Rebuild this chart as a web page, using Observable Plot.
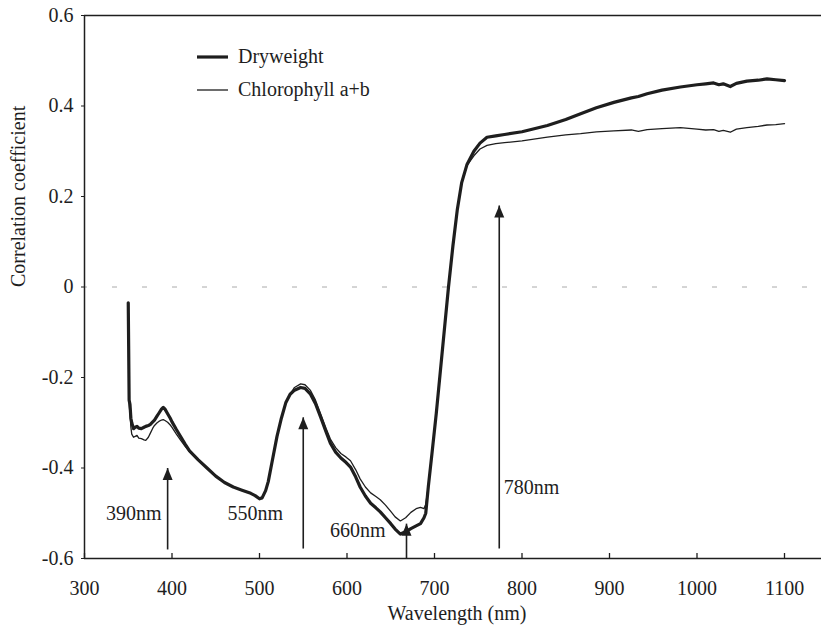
<!DOCTYPE html>
<html><head><meta charset="utf-8">
<script src="https://cdn.jsdelivr.net/npm/d3@7"></script>
<script src="https://cdn.jsdelivr.net/npm/@observablehq/plot@0.6"></script>
<style>body{margin:0;background:#fff} svg{display:block}</style>
</head><body><div id="chart"></div>
<script>
// ---- data ----
const wavelengths = [350, 350.5, 351, 352, 353, 354, 356, 358, 360, 362, 365, 368, 370, 373, 375, 378, 380, 383, 385, 388, 390, 392, 395, 398, 400, 405, 410, 415, 420, 430, 440, 450, 460, 470, 480, 490, 495, 500, 503, 507, 510, 515, 520, 525, 530, 535, 540, 547, 552, 558, 564, 570, 576, 581, 587, 593, 599, 604, 610, 615, 621, 627, 633, 638, 644, 650, 655, 661, 667, 673, 679, 684, 688, 690, 693, 697, 702, 707, 712, 716, 721, 726, 731, 737, 745, 752, 760, 770, 780, 800, 829, 850, 867, 885, 905, 925, 933, 943, 960, 981, 1000, 1010, 1019, 1025, 1030, 1038, 1045, 1057, 1070, 1080, 1090, 1100];
const dryweight = [-0.035, -0.14, -0.25, -0.26, -0.29, -0.30, -0.313, -0.31, -0.308, -0.312, -0.313, -0.31, -0.308, -0.306, -0.304, -0.298, -0.294, -0.285, -0.279, -0.27, -0.266, -0.27, -0.28, -0.29, -0.298, -0.315, -0.331, -0.347, -0.362, -0.382, -0.40, -0.418, -0.432, -0.442, -0.449, -0.456, -0.461, -0.468, -0.466, -0.45, -0.43, -0.38, -0.33, -0.29, -0.256, -0.237, -0.228, -0.222, -0.224, -0.236, -0.258, -0.288, -0.32, -0.345, -0.365, -0.378, -0.388, -0.398, -0.42, -0.442, -0.462, -0.478, -0.488, -0.497, -0.51, -0.523, -0.535, -0.546, -0.541, -0.534, -0.528, -0.523, -0.51, -0.50, -0.44, -0.37, -0.28, -0.18, -0.08, 0.0, 0.09, 0.17, 0.23, 0.27, 0.30, 0.318, 0.331, 0.334, 0.337, 0.343, 0.357, 0.37, 0.383, 0.396, 0.408, 0.418, 0.421, 0.427, 0.435, 0.442, 0.447, 0.449, 0.451, 0.447, 0.449, 0.443, 0.450, 0.455, 0.457, 0.460, 0.458, 0.456];
const chlorophyll = [-0.035, -0.15, -0.26, -0.28, -0.31, -0.325, -0.332, -0.33, -0.328, -0.334, -0.335, -0.338, -0.339, -0.332, -0.324, -0.312, -0.306, -0.300, -0.297, -0.294, -0.293, -0.295, -0.299, -0.305, -0.31, -0.325, -0.339, -0.352, -0.364, -0.382, -0.40, -0.418, -0.432, -0.442, -0.449, -0.456, -0.461, -0.468, -0.466, -0.45, -0.43, -0.38, -0.33, -0.29, -0.256, -0.237, -0.222, -0.214, -0.216, -0.228, -0.25, -0.281, -0.312, -0.336, -0.355, -0.368, -0.376, -0.384, -0.404, -0.424, -0.442, -0.455, -0.463, -0.47, -0.482, -0.496, -0.508, -0.517, -0.51, -0.498, -0.49, -0.487, -0.49, -0.48, -0.44, -0.37, -0.28, -0.18, -0.08, 0.0, 0.09, 0.17, 0.23, 0.268, 0.29, 0.305, 0.313, 0.317, 0.319, 0.323, 0.331, 0.336, 0.339, 0.343, 0.345, 0.347, 0.344, 0.348, 0.35, 0.352, 0.349, 0.347, 0.348, 0.344, 0.346, 0.342, 0.349, 0.352, 0.355, 0.358, 0.359, 0.361];
const seriesNames = ["Dryweight", "Chlorophyll a+b"];
const xTicks = [300, 400, 500, 600, 700, 800, 900, 1000, 1100];
const yTicks = [-0.6, -0.4, -0.2, 0, 0.2, 0.4, 0.6];
const yTickLabels = ["-0.6", "-0.4", "-0.2", "0", "0.2", "0.4", "0.6"];
const arrowWl = [395, 550, 668, 774];
const arrowFrom = [-0.58, -0.578, -0.6, -0.578];
const arrowTo = [-0.40, -0.288, -0.523, 0.18];
const arrowLabels = ["390nm", "550nm", "660nm", "780nm"];
const labelWl = [388, 527, 644, 779];
const labelR = [-0.5, -0.5, -0.538, -0.443];
const labelSide = ["end", "end", "end", "start"];

// ---- pick an installed serif font (Times-like) ----
function hasFont(name) {
  const c = document.createElement("canvas").getContext("2d");
  const s = "Wavelength 0123456789 Correlation";
  return ["monospace", "sans-serif"].some(base => {
    c.font = `20px ${base}`; const w0 = c.measureText(s).width;
    c.font = `20px "${name}", ${base}`; const w1 = c.measureText(s).width;
    return Math.abs(w1 - w0) > 0.5;
  });
}
const serifCandidates = ["Liberation Serif", "Times New Roman", "Tinos", "Times", "Nimbus Roman", "DejaVu Serif", "Noto Serif"];
const chosen = serifCandidates.find(hasFont);
const font = chosen ? `"${chosen}", serif` : "serif";

// ---- build tables ----
const rows = (vals, s) => wavelengths.map((w, i) => ({w, r: vals[i], s}));
const dryRows = rows(dryweight, seriesNames[0]);
const chlRows = rows(chlorophyll, seriesNames[1]);
const arrows = arrowWl.map((w, i) => ({w, from: arrowFrom[i], to: arrowTo[i]}));
const labels = arrowLabels.map((t, i) => ({t, w: labelWl[i], r: labelR[i], side: labelSide[i]}));

const ink = "#1e1e1e";
const W = 821, H = 637, mt = 15, ml = 84, mb = 79, mr = 0;
const x0 = 300, pxPerNm = 0.875;
const xMax = x0 + (W - ml - mr) / pxPerNm;

const arrowHead = {draw(ctx) { ctx.moveTo(0, 0); ctx.lineTo(-5, 12); ctx.lineTo(5, 12); ctx.closePath(); }};
const tf = {fontFamily: font, fontSize: 20, fill: ink};

const plot = Plot.plot({
  width: W, height: H,
  marginTop: mt, marginLeft: ml, marginBottom: mb, marginRight: mr,
  style: {fontFamily: font, fontSize: "20px", color: ink, background: "#fff"},
  x: {domain: [x0, xMax]},
  y: {domain: [-0.6, 0.6]},
  marks: [
    Plot.ruleY([0], {stroke: "#aaa", strokeWidth: 1, strokeDasharray: "5,25", strokeDashoffset: -28}),
    Plot.line(chlRows, {x: "w", y: "r", stroke: ink, strokeWidth: 1.3}),
    Plot.line(dryRows, {x: "w", y: "r", stroke: ink, strokeWidth: 3.2}),
    Plot.link(arrows, {x1: "w", x2: "w", y1: "from", y2: "to", stroke: ink, strokeWidth: 1.6}),
    Plot.dot(arrows, {x: "w", y: "to", symbol: arrowHead, fill: ink, stroke: null, r: 5}),
    Plot.text(labels.filter(d => d.side === "end"), {x: "w", y: "r", text: "t", textAnchor: "end", ...tf}),
    Plot.text(labels.filter(d => d.side === "start"), {x: "w", y: "r", text: "t", textAnchor: "start", ...tf}),
    Plot.ruleX([x0], {stroke: ink, strokeWidth: 1.5}),
    Plot.ruleY([-0.6, 0.6], {stroke: ink, strokeWidth: 1.5}),
    Plot.tickX(xTicks, {x: d => d, stroke: ink, strokeWidth: 1.3, insetTop: H - mt - mb - 5}),
    Plot.axisY(yTicks, {tickSize: 3, tickPadding: 8, tickFormat: d => yTickLabels[yTicks.indexOf(d)], label: null, stroke: ink, ...tf}),
    Plot.axisX(xTicks, {tickSize: 0, tickPadding: 22, tickFormat: d => String(d), label: null, ...tf}),
    Plot.text(["Wavelength (nm)"], {frameAnchor: "bottom", dy: 61, dx: 4, ...tf}),
    Plot.text(["Correlation coefficient"], {frameAnchor: "left", rotate: -90, dx: -66, ...tf})
  ]
});

// legend inside the plot (top-left area)
const svg = d3.select(plot);
const legend = svg.append("g").attr("font-family", font).attr("font-size", 20)
  .attr("fill", ink).attr("text-anchor", "start");
const legendWidths = [3.2, 1.3];
seriesNames.forEach((name, i) => {
  const y = mt + 42 + i * 33;
  legend.append("line").attr("x1", ml + 113).attr("x2", ml + 144).attr("y1", y).attr("y2", y)
    .attr("stroke", ink).attr("stroke-width", legendWidths[i]);
  legend.append("text").attr("x", ml + 154).attr("y", y).attr("dy", "0.32em").text(name);
});

document.getElementById("chart").appendChild(plot);
</script>
</body></html>
